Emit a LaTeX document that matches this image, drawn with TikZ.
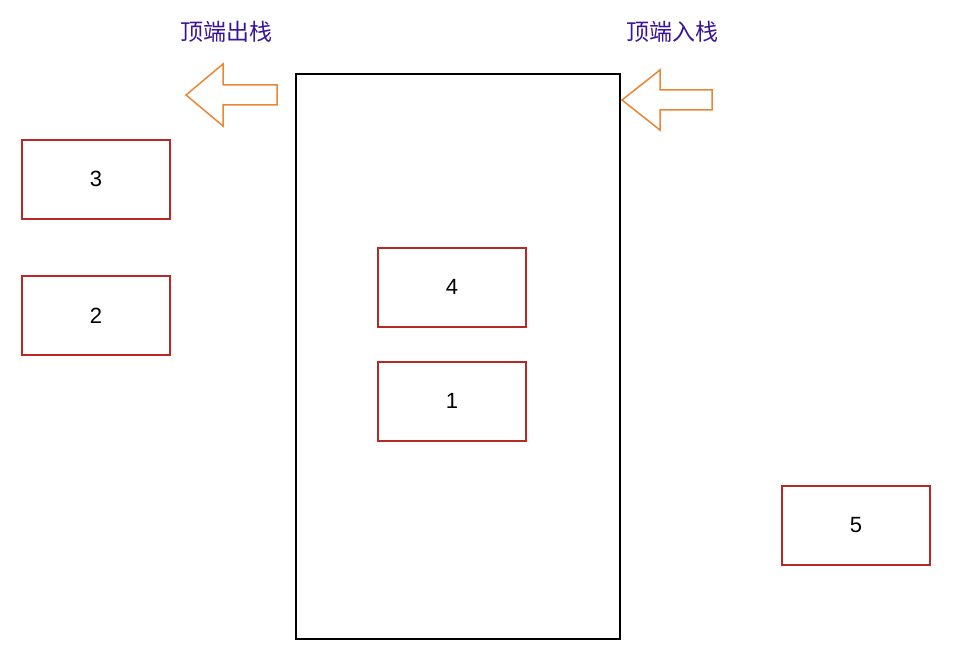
\documentclass[tikz,border=0pt]{standalone}
\usepackage{fontspec}
\setmainfont{Liberation Sans}
\newfontfamily\cjk{Noto Sans CJK SC}
\definecolor{boxred}{RGB}{184,40,36}
\definecolor{arroworange}{RGB}{234,134,52}
\definecolor{labelblue}{RGB}{58,22,150}
\begin{document}
\begin{tikzpicture}[x=1pt,y=-1pt,
  itembox/.style={draw=boxred,line width=1.8pt,minimum width=148pt,minimum height=79pt,inner sep=0pt,font=\fontsize{22}{26}\selectfont,anchor=north west},
  bigarrow/.style={draw=arroworange,line width=1.5pt,fill=white,line join=miter},
  caption/.style={text=labelblue,font=\cjk\fontsize{23}{27}\selectfont}]
\useasboundingbox (0,0) rectangle (970,658);
\node[draw=black,line width=2pt,minimum width=324pt,minimum height=565pt,inner sep=0pt,anchor=north west] (stack) at (295,73) {};
\node[itembox] (b3) at (21,139) {3};
\node[itembox] (b2) at (21,275) {2};
\node[itembox] (b4) at (377,247) {4};
\node[itembox] (b1) at (377,361) {1};
\node[itembox] (b5) at (781,485) {5};
\draw[bigarrow] (186,95) -- (223,64) -- (223,85) -- (277,85) -- (277,105) -- (223,105) -- (223,126) -- cycle;
\draw[bigarrow] (622,100) -- (660,70) -- (660,90) -- (712,90) -- (712,110) -- (660,110) -- (660,130) -- cycle;
\node[caption] (pop) at (226,32) {顶端出栈};
\node[caption] (push) at (672,32) {顶端入栈};
\end{tikzpicture}
\end{document}
